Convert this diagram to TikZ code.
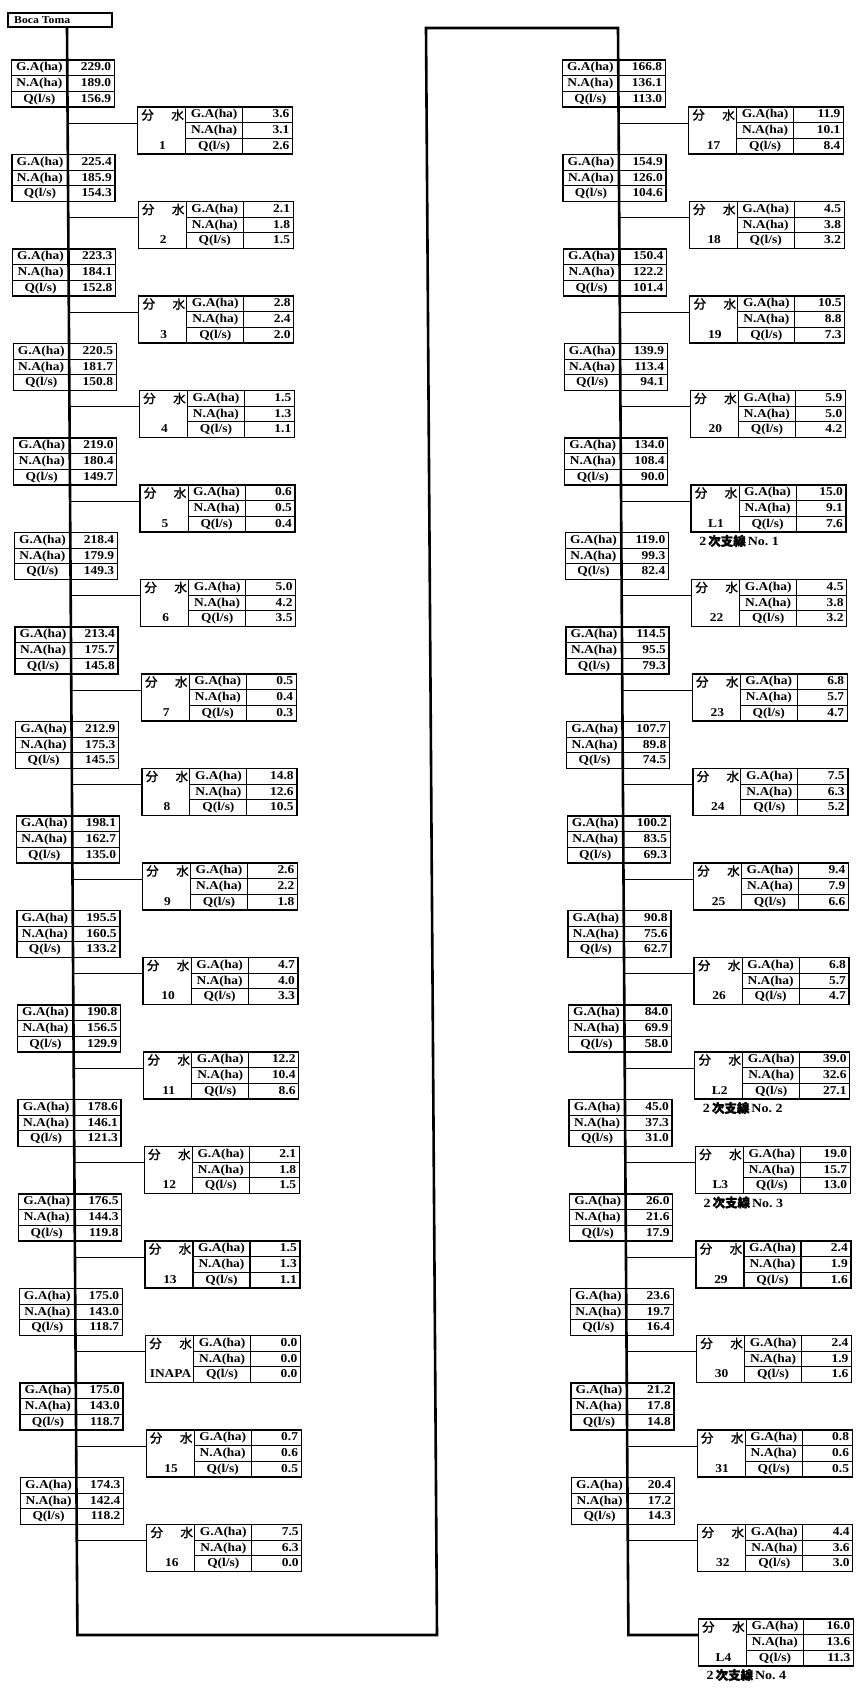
\documentclass[tikz,border=0pt]{standalone}
\usepackage{fontspec}
\newfontfamily\tabfont{Liberation Serif}[FakeStretch=1.12]
\newfontfamily\cjkfont{Noto Sans CJK JP}[FakeBold=1.5]
\tikzset{
 mainline/.style={line width=2.6pt},
 tabbox/.style={draw, line width=1.3pt, inner sep=0pt, outer sep=0pt},
 cell/.style={line width=1.1pt},
 conn/.style={line width=0.9pt},
 lab/.style={font=\tabfont\bfseries\fontsize{12}{12}\selectfont, inner sep=0pt, text height=8pt, text depth=2pt},
 val/.style={lab, anchor=east},
 cj/.style={font=\cjkfont\fontsize{12.5}{12.5}\selectfont, inner sep=0pt},
 note/.style={font=\tabfont\bfseries\fontsize{12.5}{12.5}\selectfont, inner sep=0pt, anchor=west},
}
\newcommand\mtab[6]{%
 \pgfmathsetmacro\xl{#2+0.0065*(#3+23.5)}%
 \node[tabbox, minimum width=103pt, minimum height=47pt, anchor=north west] (#1) at (\xl-56,#3) {};
 \draw[cell] (\xl-56,#3+15.67) -- (\xl+47,#3+15.67) (\xl-56,#3+31.33) -- (\xl+47,#3+31.33) (\xl,#3) -- (\xl,#3+47);
 \node[lab] (#1a) at (\xl-28,#3+7.8) {G.A(ha)};
 \node[lab] (#1b) at (\xl-28,#3+23.5) {N.A(ha)};
 \node[lab] (#1c) at (\xl-28,#3+39.2) {Q(l/s)};
 \node[val] (#1d) at (\xl+44,#3+7.8) {#4};
 \node[val] (#1e) at (\xl+44,#3+23.5) {#5};
 \node[val] (#1f) at (\xl+44,#3+39.2) {#6};
}
\newcommand\btab[7]{%
 \pgfmathsetmacro\xt{#2+0.0065*(#3+16)}%
 \pgfmathsetmacro\xb{\xt+70}%
 \coordinate (#1t) at (\xt,#3+16);
 \coordinate (#1i) at (\xb,#3+16);
 \node[tabbox, minimum width=155pt, minimum height=47pt, anchor=north west] (#1) at (\xb,#3) {};
 \draw[cell] (\xb+48,#3) -- (\xb+48,#3+47) (\xb+105,#3) -- (\xb+105,#3+47)
   (\xb+48,#3+15.67) -- (\xb+155,#3+15.67) (\xb+48,#3+31.33) -- (\xb+155,#3+31.33);
 \node[cj] (#1g) at (\xb+10,#3+8) {分};
 \node[cj] (#1h) at (\xb+40,#3+8) {水};
 \node[lab] (#1n) at (\xb+25,#3+39.2) {#4};
 \node[lab] (#1a) at (\xb+76.5,#3+7.8) {G.A(ha)};
 \node[lab] (#1b) at (\xb+76.5,#3+23.5) {N.A(ha)};
 \node[lab] (#1c) at (\xb+76.5,#3+39.2) {Q(l/s)};
 \node[val] (#1d) at (\xb+152,#3+7.8) {#5};
 \node[val] (#1e) at (\xb+152,#3+23.5) {#6};
 \node[val] (#1f) at (\xb+152,#3+39.2) {#7};
 \draw[conn] (#1t) -- (#1i);
}
\begin{document}
\begin{tikzpicture}[x=1pt,y=-1pt]
\useasboundingbox (0,0) rectangle (857,1695);
% intake
\node[tabbox, minimum width=104pt, minimum height=14pt, anchor=north west] (bt) at (8,13) {};
\node[font=\tabfont\bfseries\fontsize{10.5}{10.5}\selectfont, anchor=west, inner sep=0pt] (btt) at (14,20.5) {Boca Toma};
% main canal
\coordinate (P0) at (67,27);
\coordinate (P1) at (77.4,1635);
\coordinate (P2) at (437,1635);
\coordinate (P3) at (426,28);
\coordinate (P4) at (618,28);
\coordinate (P5) at (628.4,1635);
% left column
\foreach \k/\ga/\na/\q in {1/229.0/189.0/156.9, 2/225.4/185.9/154.3, 3/223.3/184.1/152.8, 4/220.5/181.7/150.8,
 5/219.0/180.4/149.7, 6/218.4/179.9/149.3, 7/213.4/175.7/145.8, 8/212.9/175.3/145.5, 9/198.1/162.7/135.0,
 10/195.5/160.5/133.2, 11/190.8/156.5/129.9, 12/178.6/146.1/121.3, 13/176.5/144.3/119.8, 14/175.0/143.0/118.7,
 15/175.0/143.0/118.7, 16/174.3/142.4/118.2}{
 \pgfmathsetmacro\yt{60+(\k-1)*94.5}
 \mtab{LT\k}{66.8}{\yt}{\ga}{\na}{\q}
}
\foreach \k/\lab/\ga/\na/\q in {1/1/3.6/3.1/2.6, 2/2/2.1/1.8/1.5, 3/3/2.8/2.4/2.0, 4/4/1.5/1.3/1.1, 5/5/0.6/0.5/0.4,
 6/6/5.0/4.2/3.5, 7/7/0.5/0.4/0.3, 8/8/14.8/12.6/10.5, 9/9/2.6/2.2/1.8, 10/10/4.7/4.0/3.3, 11/11/12.2/10.4/8.6,
 12/12/2.1/1.8/1.5, 13/13/1.5/1.3/1.1, 14/INAPA/0.0/0.0/0.0, 15/15/0.7/0.6/0.5, 16/16/7.5/6.3/0.0}{
 \pgfmathsetmacro\yb{60+(\k-1)*94.5+47}
 \btab{LB\k}{66.8}{\yb}{\lab}{\ga}{\na}{\q}
}
% right column
\foreach \k/\ga/\na/\q in {1/166.8/136.1/113.0, 2/154.9/126.0/104.6, 3/150.4/122.2/101.4, 4/139.9/113.4/94.1,
 5/134.0/108.4/90.0, 6/119.0/99.3/82.4, 7/114.5/95.5/79.3, 8/107.7/89.8/74.5, 9/100.2/83.5/69.3,
 10/90.8/75.6/62.7, 11/84.0/69.9/58.0, 12/45.0/37.3/31.0, 13/26.0/21.6/17.9, 14/23.6/19.7/16.4,
 15/21.2/17.8/14.8, 16/20.4/17.2/14.3}{
 \pgfmathsetmacro\yt{60+(\k-1)*94.5}
 \mtab{RT\k}{617.8}{\yt}{\ga}{\na}{\q}
}
\foreach \k/\lab/\ga/\na/\q in {1/17/11.9/10.1/8.4, 2/18/4.5/3.8/3.2, 3/19/10.5/8.8/7.3, 4/20/5.9/5.0/4.2,
 5/L1/15.0/9.1/7.6, 6/22/4.5/3.8/3.2, 7/23/6.8/5.7/4.7, 8/24/7.5/6.3/5.2, 9/25/9.4/7.9/6.6, 10/26/6.8/5.7/4.7,
 11/L2/39.0/32.6/27.1, 12/L3/19.0/15.7/13.0, 13/29/2.4/1.9/1.6, 14/30/2.4/1.9/1.6, 15/31/0.8/0.6/0.5,
 16/32/4.4/3.6/3.0, 17/L4/16.0/13.6/11.3}{
 \pgfmathsetmacro\yb{60+(\k-1)*94.5+47}
 \btab{RB\k}{617.8}{\yb}{\lab}{\ga}{\na}{\q}
}
\draw[mainline] (P0) -- (P1) -- (P2) -- (P3) -- (P4) -- (P5) -- (RB17i);
% secondary line notes
\node[note] (N1) at ([xshift=8pt,yshift=-9pt]RB5.south west) {2\hspace{2pt}{\cjkfont 次支線}\hspace{2pt}No.\ 1};
\node[note] (N2) at ([xshift=8pt,yshift=-9pt]RB11.south west) {2\hspace{2pt}{\cjkfont 次支線}\hspace{2pt}No.\ 2};
\node[note] (N3) at ([xshift=8pt,yshift=-9pt]RB12.south west) {2\hspace{2pt}{\cjkfont 次支線}\hspace{2pt}No.\ 3};
\node[note] (N4) at ([xshift=8pt,yshift=-9pt]RB17.south west) {2\hspace{2pt}{\cjkfont 次支線}\hspace{2pt}No.\ 4};
\end{tikzpicture}
\end{document}
